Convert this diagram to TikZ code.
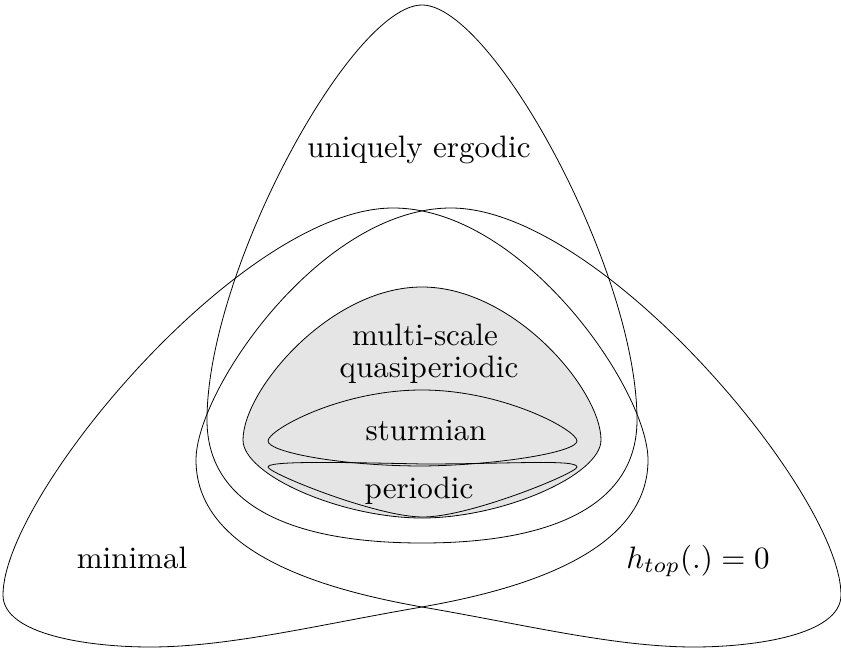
\documentclass[tikz,border=0pt]{standalone}
\begin{document}
\begin{tikzpicture}[x=1pt,y=-1pt,
  setline/.style={draw=black,line width=0.8pt},
  lbl/.style={scale=3.1,anchor=base,inner sep=0pt}]
\useasboundingbox (0,0) rectangle (841,650);
% multi-scale quasiperiodic (filled)
\path[setline,fill=black!10] (422,287)
  .. controls (330,287) and (243,390) .. (243,440)
  .. controls (243,475) and (341,518) .. (422,518)
  .. controls (503,518) and (601,475) .. (601,440)
  .. controls (601,390) and (514,287) .. cycle;
% sturmian
\path[setline] (268,441)
  .. controls (268,430) and (340,390) .. (422,390)
  .. controls (503,390) and (577,430) .. (577,441)
  .. controls (577,452) and (500,465) .. (423,466)
  .. controls (340,466) and (268,452) .. cycle;
% periodic
\path[setline] (268,467)
  .. controls (268,461) and (330,462) .. (423,464)
  .. controls (510,464) and (577,459) .. (577,467)
  .. controls (577,473) and (470,517) .. (423,517)
  .. controls (376,517) and (268,473) .. cycle;
% uniquely ergodic
\path[setline] (422,5)
  .. controls (352,5) and (207,270) .. (207,420)
  .. controls (207,500) and (282,543) .. (422,543)
  .. controls (562,543) and (637,500) .. (637,420)
  .. controls (637,270) and (492,5) .. cycle;
% minimal
\path[setline] (393,208)
  .. controls (243,208) and (3,495) .. (3,595)
  .. controls (3,635) and (90,647) .. (150,647)
  .. controls (230,647) and (322,624) .. (422,607)
  .. controls (500,593) and (648,560) .. (648,460)
  .. controls (648,390) and (523,208) .. cycle;
% h_top = 0 (mirror of minimal)
\begin{scope}[xshift=844pt,xscale=-1]
\path[setline] (393,208)
  .. controls (243,208) and (3,495) .. (3,595)
  .. controls (3,635) and (90,647) .. (150,647)
  .. controls (230,647) and (322,624) .. (422,607)
  .. controls (500,593) and (648,560) .. (648,460)
  .. controls (648,390) and (523,208) .. cycle;
\end{scope}
\node[lbl] (ue) at (419,158) {uniquely ergodic};
\node[lbl] (msq1) at (425,345) {multi-scale};
\node[lbl] (msq2) at (429,377) {quasiperiodic};
\node[lbl] (st) at (426,440) {sturmian};
\node[lbl] (pe) at (419,498) {periodic};
\node[lbl] (mi) at (132,568) {minimal};
\node[lbl] (ht) at (698,568) {$h_{top}(.) = 0$};
\end{tikzpicture}
\end{document}
